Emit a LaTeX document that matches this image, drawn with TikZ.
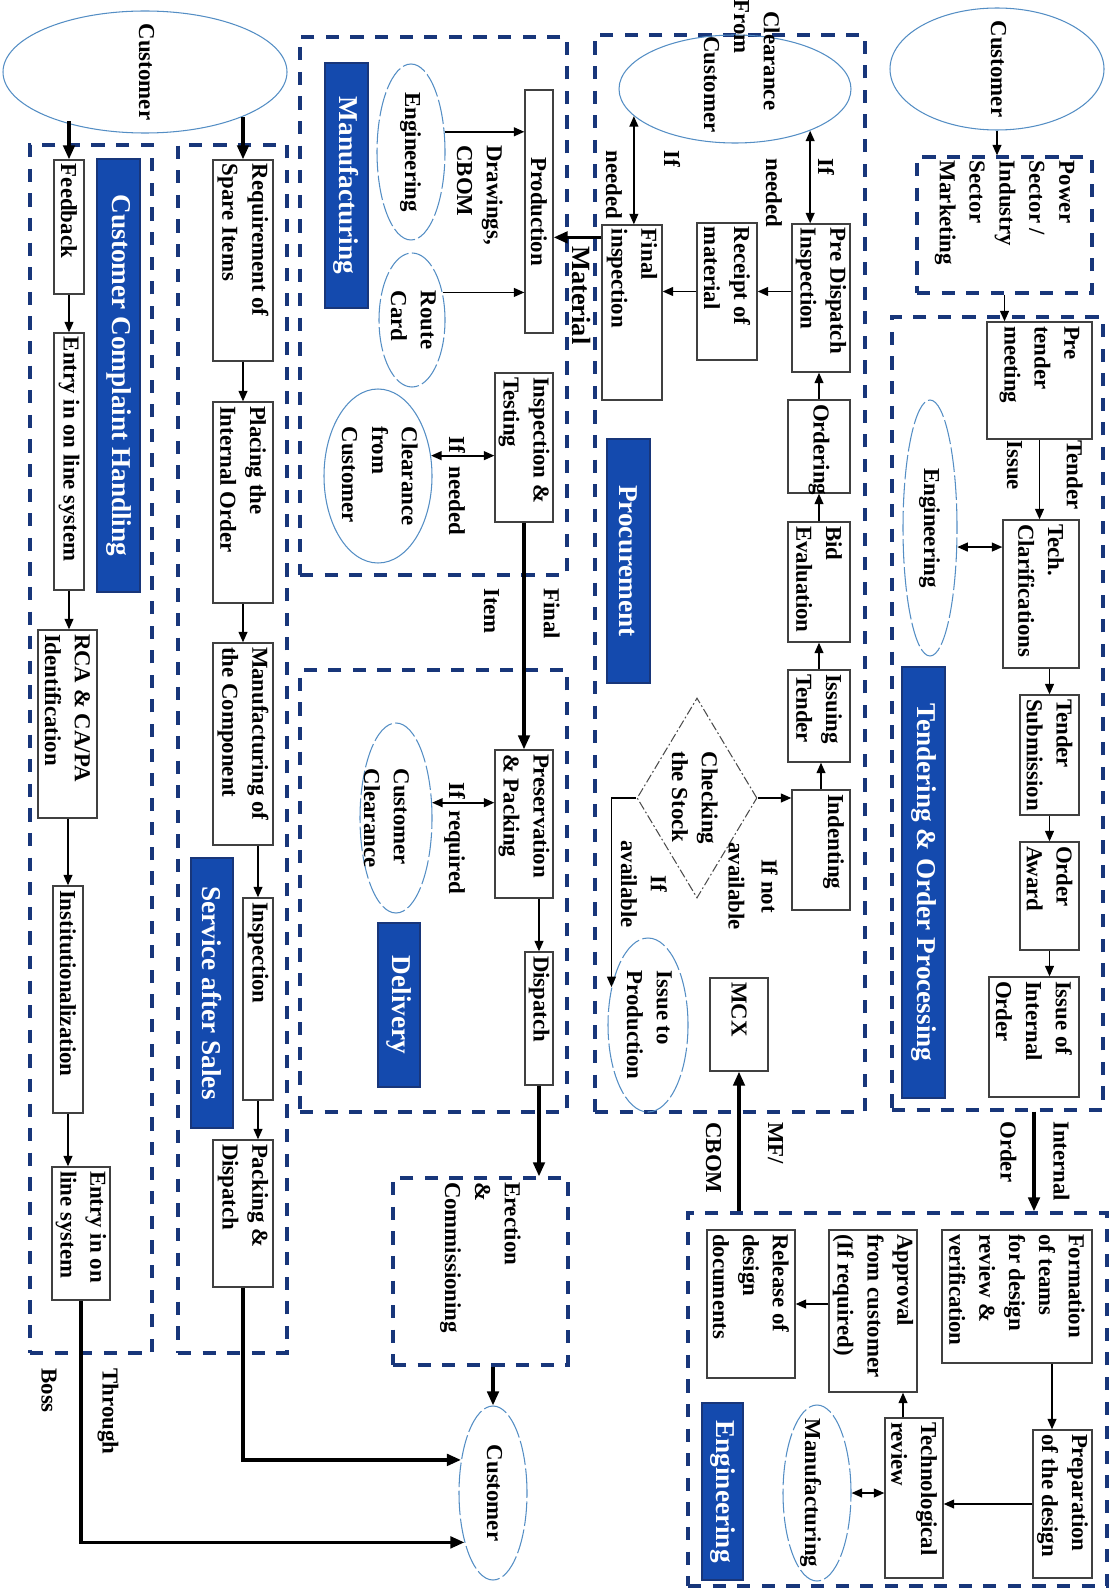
\documentclass[tikz,border=0pt]{standalone}
\usepackage{fontspec}
\setmainfont{Liberation Serif}
\usetikzlibrary{arrows.meta,shapes.geometric}

\definecolor{navy}{RGB}{24, 54, 122}
\definecolor{bannerblue}{RGB}{20, 74, 174}
\definecolor{ovalblue}{RGB}{84, 142, 196}

\newlength{\pxu}
\setlength{\pxu}{0.02cm}

% text that reads downwards
\newcommand{\vlines}[2]{\rotatebox{-90}{\parbox{#1\pxu}{\raggedright #2}}}
\newcommand{\vcol}[1]{\rotatebox{-90}{\begin{tabular}{@{}l@{}}#1\end{tabular}}}
\newcommand{\vcolc}[1]{\rotatebox{-90}{\begin{tabular}{@{}c@{}}#1\end{tabular}}}

% box from its corners: [style]{name}{x1}{y1}{x2}{y2}{text}
\newcommand{\procnode}[7][stepbox]{%
  \pgfmathsetmacro{\pnw}{#5-#3}%
  \pgfmathsetmacro{\pnh}{#6-#4}%
  \pgfmathsetmacro{\pnl}{#6-#4-8}%
  \node[#1, minimum width=\pnw*\pxu, minimum height=\pnh*\pxu]
    (#2) at ({(#3+#5)/2},{(#4+#6)/2}) {\vlines{\pnl}{#7}};}

\tikzset{
  stepbox/.style={draw=black!75, line width=0.7pt, fill=white, inner sep=0pt},
  banner/.style={draw=navy, line width=0.8pt, fill=bannerblue, text=white, inner sep=0pt,
    font=\fontsize{15.5}{18}\selectfont\bfseries},
  zone/.style={draw=navy, line width=1.8pt, dash pattern=on 7.5pt off 6.5pt, inner sep=0pt},
  oval/.style={ellipse, draw=ovalblue, line width=0.6pt, inner sep=0pt},
  ovald/.style={oval, dash pattern=on 14pt off 2pt},
  stock/.style={diamond, draw=black!70, line width=0.6pt,
    dash pattern=on 5pt off 1.5pt on 1pt off 1.5pt, inner sep=0pt},
  flow/.style={->, line width=1pt},
  bflow/.style={-{Triangle[length=8pt,width=6.5pt]}, line width=1.9pt},
  both/.style={<->, line width=1pt},
  tag/.style={inner sep=0pt}
}

\begin{document}
\begin{tikzpicture}[x=0.02cm, y=-0.02cm, >={Triangle[length=6pt,width=5pt]},
    font=\fontsize{13}{17}\selectfont\bfseries]
    \useasboundingbox (0,0) rectangle (1112,1591);

    % Zones
    \procnode[zone]{cchF}{30}{145}{152}{1353}{}
    \procnode[zone]{sasF}{178}{145}{287}{1353}{}
    \procnode[zone]{mfgF}{300}{37}{567}{575}{}
    \procnode[zone]{delF}{300}{670}{567}{1112}{}
    \procnode[zone]{proF}{595}{35}{865}{1112}{}
    \procnode[zone]{tendF}{892}{317}{1103}{1110}{}
    \procnode[zone]{engF}{688}{1213}{1107}{1586}{}
    \procnode[zone]{pw}{917}{157}{1092}{293}{Power\\Sector /\\Industry\\Sector\\Marketing}
    \procnode[zone]{erect}{393}{1178}{568}{1365}{Erection\\\&\\Commissioning}

    % Banners
    \procnode[banner]{bnCch}{97}{159}{140}{592}{\centering Customer Complaint Handling}
    \procnode[banner]{bnSas}{191}{858}{233}{1128}{\centering Service after Sales}
    \procnode[banner]{bnMfg}{325}{63}{368}{308}{\centering Manufacturing}
    \procnode[banner]{bnDel}{378}{923}{420}{1087}{\centering Delivery}
    \procnode[banner]{bnPro}{607}{439}{650}{683}{\centering Procurement}
    \procnode[banner]{bnTop}{902}{667}{945}{1098}{\centering Tendering \& Order Processing}
    \procnode[banner]{bnEng}{702}{1403}{743}{1580}{\centering Engineering}

    % Customers and other ovals
    \node[oval, minimum width=284*\pxu, minimum height=122*\pxu,
      label={[tag]center:\vcol{Customer}}] (custL) at (145,72) {};
    \node[oval, minimum width=214*\pxu, minimum height=122*\pxu,
      label={[tag]center:\vcol{Customer}}] (custR) at (997,69) {};
    \node[ovald, minimum width=68*\pxu, minimum height=174*\pxu,
      label={[tag]center:\vcol{Customer}}] (custB) at (493,1493) {};
    \node[oval, minimum width=232*\pxu, minimum height=108*\pxu,
      label={[tag, xshift=0.1cm, yshift=0.46cm]center:\vcol{\hspace*{6.8pt}Clearance\\From\\\hspace*{21pt}Customer}}] (clrP) at (735,89) {};
    \node[ovald, minimum width=68*\pxu, minimum height=176*\pxu,
      label={[tag]center:\vcol{Engineering}}] (engM) at (411,152) {};
    \node[ovald, minimum width=66*\pxu, minimum height=134*\pxu,
      label={[tag]center:\vcol{Route\\Card}}] (route) at (412,320) {};
    \node[oval, minimum width=108*\pxu, minimum height=174*\pxu,
      label={[tag]center:\vcol{Clearance\\from\\Customer}}] (clrM) at (378,476) {};
    \node[ovald, minimum width=72*\pxu, minimum height=190*\pxu,
      label={[tag, xshift=-0.22cm]center:\vcol{Customer\\Clearance}}] (clrD) at (396,818) {};
    \node[ovald, minimum width=80*\pxu, minimum height=174*\pxu,
      label={[tag]center:\vcol{Issue to\\Production}}] (issP) at (648,1025) {};
    \node[ovald, minimum width=54*\pxu, minimum height=256*\pxu,
      label={[tag]center:\vcol{Engineering}}] (engT) at (930,528) {};
    \node[ovald, minimum width=68*\pxu, minimum height=176*\pxu,
      label={[tag, xshift=-0.12cm]center:\vcol{Manufacturing}}] (mfgE) at (817,1493) {};
    \node[stock, minimum width=120*\pxu, minimum height=200*\pxu,
      label={[tag, xshift=-0.08cm]center:\vcol{Checking\\the Stock}}] (chk) at (697,798) {};

    % Customer complaint handling
    \procnode{fb}{54}{160}{84}{294}{Feedback}
    \procnode{ent1}{54}{333}{84}{590}{Entry in on line system}
    \procnode{rca}{38}{630}{97}{818}{RCA \& CA/PA\\Identification}
    \procnode{inst}{53}{886}{83}{1113}{Institutionalization}
    \procnode{ent2}{52}{1167}{110}{1300}{Entry in on\\line system}

    % Service after sales
    \procnode{req}{213}{160}{273}{361}{Requirement of\\Spare Items}
    \procnode{plc}{213}{402}{273}{603}{Placing the\\Internal Order}
    \procnode{mfc}{213}{643}{273}{845}{Manufacturing of\\the Component}
    \procnode{insp}{243}{898}{273}{1100}{Inspection}
    \procnode{pkd}{213}{1140}{273}{1287}{Packing \&\\Dispatch}

    % Manufacturing and delivery
    \procnode{prod}{525}{90}{553}{333}{\centering Production}
    \procnode{insT}{495}{373}{553}{522}{Inspection \&\\Testing}
    \procnode{pres}{495}{750}{553}{898}{Preservation\\\& Packing}
    \procnode{disp}{525}{952}{553}{1085}{Dispatch}

    % Procurement
    \procnode{pdi}{792}{224}{850}{372}{Pre Dispatch\\Inspection}
    \procnode{rcp}{697}{223}{757}{360}{Receipt of\\material}
    \procnode{fin}{602}{225}{662}{400}{Final\\inspection}
    \procnode{ord}{788}{400}{850}{493}{Ordering}
    \procnode{bid}{788}{522}{850}{642}{Bid\\Evaluation}
    \procnode{iss}{788}{670}{850}{762}{Issuing\\Tender}
    \procnode{ind}{792}{790}{850}{910}{Indenting\\\mbox{}}
    \procnode{mcx}{710}{978}{768}{1071}{MCX}

    % Tendering
    \procnode{ptm}{987}{322}{1092}{439}{Pre\\tender\\meeting}
    \procnode{tcl}{1003}{520}{1079}{668}{Tech.\\Clarifications}
    \procnode{tsub}{1020}{695}{1079}{815}{Tender\\Submission}
    \procnode{oaw}{1020}{842}{1079}{950}{Order\\Award}
    \procnode{ioo}{989}{977}{1079}{1097}{Issue of\\Internal\\Order}

    % Engineering
    \procnode{fot}{942}{1230}{1092}{1363}{Formation\\of teams\\for design\\review \&\\verification}
    \procnode{pod}{1033}{1430}{1092}{1578}{Preparation\\of the design}
    \procnode{trv}{885}{1418}{943}{1578}{Technological\\review}
    \procnode{apc}{829}{1230}{917}{1392}{Approval\\from customer\\(If required)}
    \procnode{rel}{707}{1230}{795}{1378}{Release of\\design\\documents}

    % Connectors: complaint handling
    \draw[bflow] ([yshift=0.76cm]fb.north) -- (fb.north);
    \draw[flow] (fb.south) -- (fb.south |- ent1.north);
    \draw[flow] (ent1.south) -- (ent1.south |- rca.north);
    \draw[flow] (inst.north |- rca.south) -- (inst.north);
    \draw[flow] (inst.south) -- (inst.south |- ent2.north);
    \draw[bflow] (ent2.south) |- (custB.240);

    % Connectors: service after sales
    \draw[bflow] ([yshift=0.84cm]req.north) -- (req.north);
    \draw[flow] (req.south) -- (req.south |- plc.north);
    \draw[flow] (plc.south) -- (plc.south |- mfc.north);
    \draw[flow] (insp.north |- mfc.south) -- (insp.north);
    \draw[flow] (insp.south) -- (insp.south |- pkd.north);
    \draw[bflow] (pkd.south) |- (custB.134);

    % Connectors: manufacturing and delivery
    \draw[flow] (engM.31) -- (engM.31 -| prod.west);
    \draw[flow] (route.42) -- (route.42 -| prod.west);
    \draw[both] (clrM.21) -- (clrM.21 -| insT.west);
    \draw[bflow] (insT.south) -- (insT.south |- pres.north);
    \draw[both] (clrD.23) -- (clrD.23 -| pres.west);
    \draw[flow] (disp.north |- pres.south) -- (disp.north);
    \draw[bflow] (disp.south) -- (disp.south |- erect.north);
    \draw[bflow] (custB.north |- erect.south) -- (custB.north);

    % Connectors: procurement
    \draw[both] (clrP.-29) -- (clrP.-29 |- pdi.north);
    \draw[both] (clrP.195) -- (clrP.195 |- fin.north);
    \draw[flow] (pdi.west |- rcp.east) -- (rcp.east);
    \draw[flow] (rcp.west) -- (rcp.west -| fin.east);
    \coordinate (matIn) at ([yshift=-0.26cm]fin.north west);
    \draw[bflow] (matIn) -- (matIn -| prod.east);
    \draw[flow] (ord.north) -- (ord.north |- pdi.south);
    \draw[flow] (bid.north) -- (bid.north |- ord.south);
    \draw[flow] (iss.north) -- (iss.north |- bid.south);
    \draw[flow] (ind.north) -- (ind.north |- iss.south);
    \draw[flow] (chk.east) -- (chk.east -| ind.west);
    \draw[flow] (chk.west) -| (issP.134);
    \draw[bflow] (mcx.south |- engF.north) -- (mcx.south);

    % Connectors: tendering
    \draw[flow] (custR.south) -- (custR.south |- pw.north);
    \draw[flow] (pw.south) -- (pw.south |- ptm.north);
    \draw[flow] (ptm.south) -- (ptm.south |- tcl.north);
    \draw[both] (engT.-35) -- (engT.-35 -| tcl.west);
    \draw[flow] (tsub.north |- tcl.south) -- (tsub.north);
    \draw[flow] (tsub.south) -- (tsub.south |- oaw.north);
    \draw[flow] (oaw.south) -- (oaw.south |- ioo.north);
    \draw[bflow] (tendF.south -| ioo.south) -- (ioo.south |- engF.north);

    % Connectors: engineering
    \coordinate (fotOut) at ([xshift=-0.21cm]pod.north);
    \draw[flow] (fotOut |- fot.south) -- (fotOut);
    \draw[flow] (pod.west) -- (pod.west -| trv.east);
    \coordinate (trvOut) at ([xshift=-0.22cm]trv.north);
    \draw[flow] (trvOut) -- (trvOut |- apc.south);
    \draw[flow] (apc.west |- rel.east) -- (rel.east);
    \draw[both] (mfgE.east) -- (mfgE.east -| trv.west);

    % Connector labels
    \node[tag, anchor=north] (lblBoss) at (78,1368) {\vcol{Through\\[17.7pt]Boss}};
    \node[tag, anchor=north] (lblItem) at (520,588) {\vcol{Final\\[17.1pt]Item}};
    \node[tag, anchor=north, font=\fontsize{15}{18}\selectfont\bfseries] (lblMat) at (579,246) {\vcol{Material}};
    \node[tag, anchor=north] (lblDrw) at (478,145) {\vcol{Drawings,\\CBOM}};
    \node[tag, anchor=north] (lblIfM) at (455,436) {\vcol{If\hspace{0.6em}needed}};
    \node[tag, anchor=north] (lblIfD) at (455,782) {\vcol{If\hspace{0.5em}required}};
    \node[tag, anchor=north] (lblIfP) at (798,158) {\vcol{If\\[12.6pt]needed}};
    \node[tag, anchor=north] (lblIfF) at (641,150) {\vcol{If\\[16pt]needed}};
    \node[tag] (lblNot) at (751,886) {\vcolc{If not\\[1.8pt]available}};
    \node[tag] (lblAv) at (642,884) {\vcolc{If\\available}};
    \node[tag, anchor=north] (lblMf) at (743,1122) {\vcol{MF/\\[18.3pt]CBOM}};
    \node[tag, anchor=north] (lblTen) at (1043,440) {\vcol{Tender\\[17.1pt]Issue}};
    \node[tag, anchor=north] (lblInt) at (1033,1121) {\vcol{Internal\\[13.2pt]Order}};
\end{tikzpicture}
\end{document}
